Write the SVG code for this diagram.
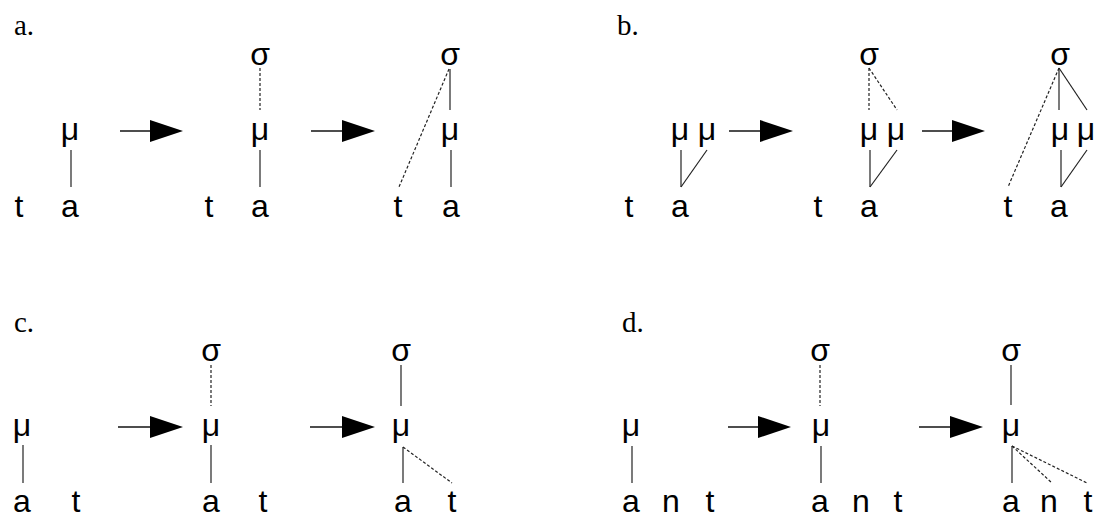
<svg xmlns="http://www.w3.org/2000/svg" width="1098" height="518" viewBox="0 0 1098 518">
<defs>
<style>
.lbl{font-family:"Liberation Serif","Times New Roman",serif;font-size:29px;fill:#000}
.s{font-family:"Liberation Sans",Arial,sans-serif;font-size:32px;fill:#000;text-anchor:middle}
.ln{stroke:#222;stroke-width:1.2;fill:none}
.dl{stroke:#222;stroke-width:1.2;fill:none;stroke-dasharray:3 2}
.ar{stroke:#000;stroke-width:1.4;fill:none;marker-end:url(#tri)}
</style>
<marker id="tri" markerUnits="userSpaceOnUse" markerWidth="33" markerHeight="22" viewBox="0 0 33 22" refX="0" refY="11" orient="auto">
<path d="M0,0 L33,11 L0,22 Z" fill="#000"/>
</marker>
</defs>
<rect width="1098" height="518" fill="#fff"/>

<g id="labels">
<text class="lbl" x="14" y="35">a.</text>
<text class="lbl" x="617" y="35">b.</text>
<text class="lbl" x="14" y="332">c.</text>
<text class="lbl" x="622" y="332">d.</text>
</g>

<g id="connectors">
<!-- transition arrows -->
<line class="ar" x1="120" y1="131" x2="150" y2="131"/>
<line class="ar" x1="311" y1="131" x2="342" y2="131"/>
<line class="ar" x1="729" y1="131" x2="760" y2="131"/>
<line class="ar" x1="922" y1="131" x2="952" y2="131"/>
<line class="ar" x1="118" y1="427" x2="150" y2="427"/>
<line class="ar" x1="310" y1="427" x2="342" y2="427"/>
<line class="ar" x1="728" y1="427" x2="758" y2="427"/>
<line class="ar" x1="919" y1="427" x2="950" y2="427"/>
<!-- a -->
<line class="ln" x1="71" y1="150" x2="71" y2="187"/>
<line class="dl" x1="260" y1="68" x2="260" y2="110"/>
<line class="ln" x1="260" y1="150" x2="260" y2="187"/>
<line class="ln" x1="450" y1="69" x2="450" y2="110"/>
<line class="dl" x1="449" y1="69" x2="399" y2="187"/>
<line class="ln" x1="451" y1="150" x2="451" y2="187"/>
<!-- b -->
<line class="ln" x1="681" y1="150" x2="681" y2="187"/>
<line class="ln" x1="707" y1="150" x2="681" y2="187"/>
<line class="dl" x1="869" y1="68" x2="869" y2="110"/>
<line class="dl" x1="869" y1="68" x2="897" y2="110"/>
<line class="ln" x1="870" y1="150" x2="870" y2="187"/>
<line class="ln" x1="897" y1="150" x2="870" y2="187"/>
<line class="ln" x1="1059" y1="68" x2="1059" y2="110"/>
<line class="ln" x1="1059" y1="68" x2="1087" y2="110"/>
<line class="dl" x1="1059" y1="68" x2="1008" y2="187"/>
<line class="ln" x1="1061" y1="150" x2="1061" y2="187"/>
<line class="ln" x1="1087" y1="150" x2="1061" y2="187"/>
<!-- c -->
<line class="ln" x1="23" y1="445" x2="23" y2="483"/>
<line class="dl" x1="211" y1="365" x2="211" y2="406"/>
<line class="ln" x1="211" y1="445" x2="211" y2="483"/>
<line class="ln" x1="401" y1="365" x2="401" y2="406"/>
<line class="ln" x1="403" y1="447" x2="403" y2="483"/>
<line class="dl" x1="403" y1="447" x2="452" y2="483"/>
<!-- d -->
<line class="ln" x1="632" y1="446" x2="632" y2="483"/>
<line class="dl" x1="820" y1="365" x2="820" y2="406"/>
<line class="ln" x1="821" y1="446" x2="821" y2="483"/>
<line class="ln" x1="1011" y1="365" x2="1011" y2="405"/>
<line class="ln" x1="1012" y1="446" x2="1012" y2="483"/>
<line class="dl" x1="1012" y1="446" x2="1052" y2="483"/>
<line class="dl" x1="1012" y1="446" x2="1087" y2="483"/>
</g>

<!-- panel a -->
<g id="a1-mu"><text class="s" x="70" y="140">μ</text></g>
<g id="a1-t"><text class="s" x="19" y="217">t</text></g>
<g id="a1-a"><text class="s" x="70" y="217">a</text></g>
<g id="a2-sigma"><text class="s" x="260" y="65">σ</text></g>
<g id="a2-mu"><text class="s" x="260" y="140">μ</text></g>
<g id="a2-t"><text class="s" x="209" y="217">t</text></g>
<g id="a2-a"><text class="s" x="260" y="217">a</text></g>
<g id="a3-sigma"><text class="s" x="450" y="65">σ</text></g>
<g id="a3-mu"><text class="s" x="450" y="140">μ</text></g>
<g id="a3-t"><text class="s" x="398" y="217">t</text></g>
<g id="a3-a"><text class="s" x="451" y="217">a</text></g>

<!-- panel b -->
<g id="b1-mu1"><text class="s" x="680" y="140">μ</text></g>
<g id="b1-mu2"><text class="s" x="707" y="140">μ</text></g>
<g id="b1-t"><text class="s" x="629" y="217">t</text></g>
<g id="b1-a"><text class="s" x="680" y="217">a</text></g>
<g id="b2-sigma"><text class="s" x="869" y="65">σ</text></g>
<g id="b2-mu1"><text class="s" x="869" y="140">μ</text></g>
<g id="b2-mu2"><text class="s" x="896" y="140">μ</text></g>
<g id="b2-t"><text class="s" x="818" y="217">t</text></g>
<g id="b2-a"><text class="s" x="869" y="217">a</text></g>
<g id="b3-sigma"><text class="s" x="1060" y="65">σ</text></g>
<g id="b3-mu1"><text class="s" x="1060" y="140">μ</text></g>
<g id="b3-mu2"><text class="s" x="1086" y="140">μ</text></g>
<g id="b3-t"><text class="s" x="1008" y="217">t</text></g>
<g id="b3-a"><text class="s" x="1059" y="217">a</text></g>

<!-- panel c -->
<g id="c1-mu"><text class="s" x="22" y="436">μ</text></g>
<g id="c1-a"><text class="s" x="22" y="512">a</text></g>
<g id="c1-t"><text class="s" x="76" y="512">t</text></g>
<g id="c2-sigma"><text class="s" x="211" y="361">σ</text></g>
<g id="c2-mu"><text class="s" x="211" y="436">μ</text></g>
<g id="c2-a"><text class="s" x="211" y="512">a</text></g>
<g id="c2-t"><text class="s" x="263" y="512">t</text></g>
<g id="c3-sigma"><text class="s" x="401" y="361">σ</text></g>
<g id="c3-mu"><text class="s" x="401" y="436">μ</text></g>
<g id="c3-a"><text class="s" x="403" y="512">a</text></g>
<g id="c3-t"><text class="s" x="452" y="512">t</text></g>

<!-- panel d -->
<g id="d1-mu"><text class="s" x="631" y="436">μ</text></g>
<g id="d1-a"><text class="s" x="631" y="512">a</text></g>
<g id="d1-n"><text class="s" x="671" y="512">n</text></g>
<g id="d1-t"><text class="s" x="710" y="512">t</text></g>
<g id="d2-sigma"><text class="s" x="820" y="361">σ</text></g>
<g id="d2-mu"><text class="s" x="821" y="436">μ</text></g>
<g id="d2-a"><text class="s" x="820" y="512">a</text></g>
<g id="d2-n"><text class="s" x="861" y="512">n</text></g>
<g id="d2-t"><text class="s" x="898" y="512">t</text></g>
<g id="d3-sigma"><text class="s" x="1011" y="361">σ</text></g>
<g id="d3-mu"><text class="s" x="1011" y="436">μ</text></g>
<g id="d3-a"><text class="s" x="1011" y="512">a</text></g>
<g id="d3-n"><text class="s" x="1049" y="512">n</text></g>
<g id="d3-t"><text class="s" x="1088" y="512">t</text></g>
</svg>
